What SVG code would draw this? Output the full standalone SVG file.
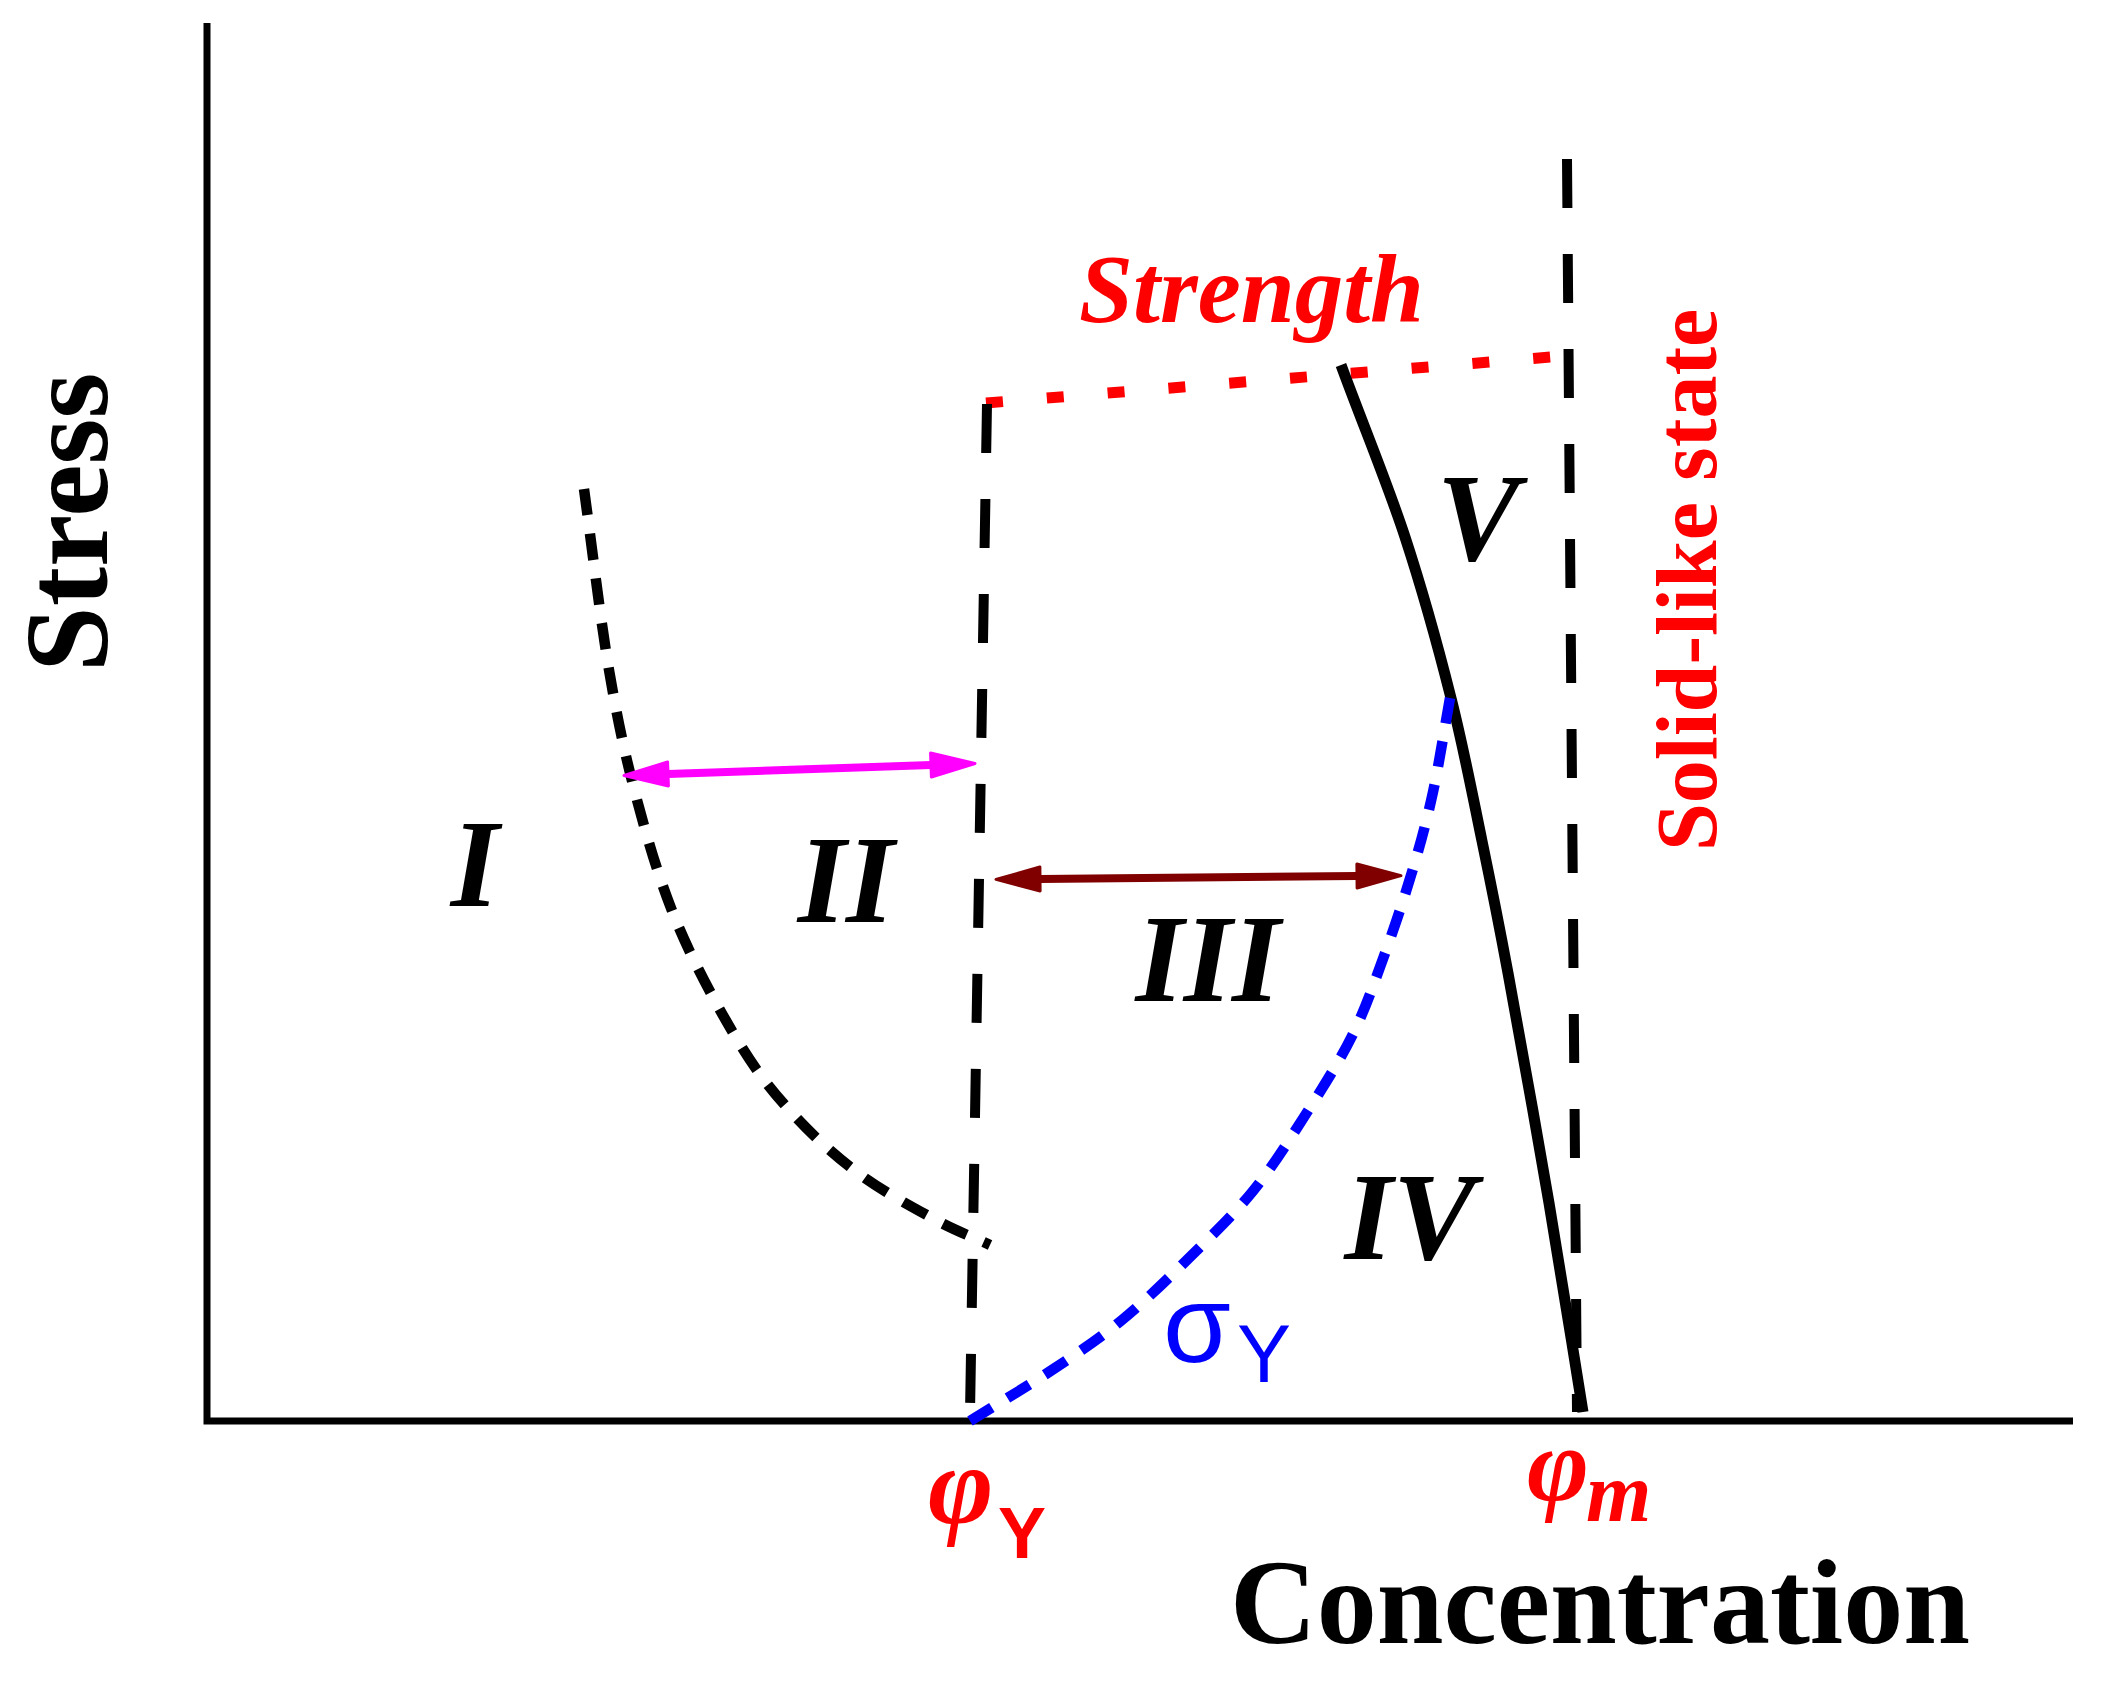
<svg xmlns="http://www.w3.org/2000/svg" width="2114" height="1685" viewBox="0 0 2114 1685">
<style>
.ax{fill:none;stroke:#000;stroke-width:7;stroke-linejoin:miter}
.vd{fill:none;stroke:#000;stroke-width:10;stroke-dasharray:49 46}
.cd{fill:none;stroke-width:10.5;stroke-dasharray:27 19;stroke-linejoin:round}
.sr{font-family:"Liberation Serif","Times New Roman",serif}
.ss{font-family:"Liberation Sans",Arial,sans-serif}
.bi{font-weight:bold;font-style:italic}
.red{fill:#ff0000}
</style>
<defs>
<marker id="hm" markerUnits="userSpaceOnUse" markerWidth="60" markerHeight="40" refX="0" refY="0" viewBox="-2 -20 60 40" orient="auto-start-reverse" overflow="visible">
<path d="M0,-12 L44,0 L0,12 Z" fill="#ff00ff" stroke="#ff00ff" stroke-width="3" stroke-linejoin="round"/>
</marker>
<marker id="hd" markerUnits="userSpaceOnUse" markerWidth="60" markerHeight="40" refX="0" refY="0" viewBox="-2 -20 60 40" orient="auto-start-reverse" overflow="visible">
<path d="M0,-12 L44,0 L0,12 Z" fill="#800000" stroke="#800000" stroke-width="3" stroke-linejoin="round"/>
</marker>
</defs>
<rect width="2114" height="1685" fill="#fff"/>
<g id="axes">
<polyline class="ax" points="207,23 207,1421 2073,1421"/>
</g>
<g id="connectors">
<polyline id="strength-line" fill="none" stroke="#ff0000" stroke-width="11" stroke-dasharray="17 44" points="986,403 1551,357"/>
<line id="phiY-line" class="vd" x1="987" y1="404" x2="970" y2="1413"/>
<line id="phim-line" class="vd" stroke-dasharray="51 46" x1="1567" y1="159" x2="1577" y2="1412"/>
<path id="left-curve" class="cd" stroke="#000" pathLength="927" d="M584,489 C592.3,549.3 600.2,618.2 609,670 C617.8,721.8 625.7,757.8 637,800 C648.3,842.2 660.2,882.8 677,923 C693.8,963.2 718.8,1009.3 738,1041 C757.2,1072.7 772,1091 792,1113 C812,1135 834.3,1155.3 858,1173 C881.7,1190.7 912,1207 934,1219 C956,1231 971.3,1236.3 990,1245"/>
<path id="solid-curve" fill="none" stroke="#000" stroke-width="11" d="M1341,365 C1362,422.3 1386.8,481.5 1405,537 C1423.2,592.5 1438.2,647.3 1451,698 C1463.8,748.7 1472.5,795.2 1482,841 C1491.5,886.8 1496.8,912.7 1508,973 C1519.2,1033.3 1536.5,1129.8 1549,1203 C1561.5,1276.2 1571.7,1342.3 1583,1412"/>
<path id="sigma-curve" class="cd" stroke="#0000ff" pathLength="947" d="M970,1421 C997.3,1404 1026.7,1386.8 1052,1370 C1077.3,1353.2 1098.8,1339 1122,1320 C1145.2,1301 1169.2,1277.5 1191,1256 C1212.8,1234.5 1234.2,1214.2 1253,1191 C1271.8,1167.8 1287.5,1142.8 1304,1117 C1320.5,1091.2 1338.7,1062.8 1352,1036 C1365.3,1009.2 1374,983.3 1384,956 C1394,928.7 1403.8,899.3 1412,872 C1420.2,844.7 1426.7,821 1433,792 C1439.3,763 1444.3,729.3 1450,698"/>
<line id="arrow-II" stroke="#ff00ff" stroke-width="8" x1="668" y1="774" x2="931" y2="765" marker-start="url(#hm)" marker-end="url(#hm)"/>
<line id="arrow-III" stroke="#800000" stroke-width="8" x1="1040" y1="879" x2="1357" y2="876" marker-start="url(#hd)" marker-end="url(#hd)"/>
</g>
<g id="label-stress"><text class="sr" font-weight="bold" font-size="118" transform="translate(107,672) rotate(-90)">Stress</text></g>
<g id="label-concentration"><text class="sr" font-weight="bold" font-size="120" x="1230" y="1643">Concentration</text></g>
<g id="label-strength"><text class="sr bi red" font-size="97" x="1079" y="322">Strength</text></g>
<g id="label-solid"><text class="sr red" font-weight="bold" font-size="86" transform="translate(1716,851) rotate(-90)">Solid-like state</text></g>
<g id="region-I"><text class="sr bi" font-size="124" text-anchor="middle" x="475" y="906">I</text></g>
<g id="region-II"><text class="sr bi" font-size="124" text-anchor="middle" x="846" y="922">II</text></g>
<g id="region-III"><text class="sr bi" font-size="124" text-anchor="middle" x="1208" y="1001">III</text></g>
<g id="region-IV"><text class="sr bi" font-size="124" text-anchor="middle" x="1410" y="1259">IV</text></g>
<g id="region-V"><text class="sr bi" font-size="124" text-anchor="middle" x="1478" y="560">V</text></g>
<g id="label-phiY"><text class="red"><tspan class="sr bi" font-size="112" x="928" y="1523">φ</tspan><tspan class="ss" font-weight="bold" font-size="72" x="998" y="1558">Y</tspan></text></g>
<g id="label-phim"><text class="red"><tspan class="sr bi" font-size="106" x="1527" y="1500">φ</tspan><tspan class="sr bi" font-size="84" x="1586" y="1521">m</tspan></text></g>
<g id="label-sigmaY"><text fill="#0000ff"><tspan class="ss" font-size="110" x="1163" y="1362">σ</tspan><tspan class="ss" font-size="81" x="1237" y="1382">Y</tspan></text></g>
</svg>
